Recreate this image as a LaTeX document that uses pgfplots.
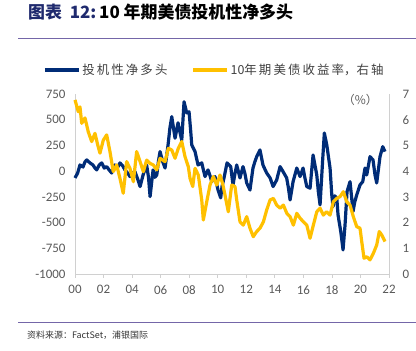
\documentclass[border=0pt]{standalone}
\usepackage{pgfplots}
\pgfplotsset{compat=1.18}
\usepackage{fontspec}
\setmainfont{Carlito}
\newfontfamily\cjk{Noto Sans CJK SC}
\definecolor{navy}{HTML}{002C77}
\definecolor{gold}{HTML}{FFC000}
\definecolor{ticktext}{HTML}{595959}
\definecolor{axgray}{HTML}{D0D0D0}
\definecolor{rulepurple}{HTML}{7466A8}
\definecolor{titlenavy}{HTML}{1F2A6E}

\pgfplotstableread{
x y
0.00 -66
0.18 -20
0.35 60
0.56 40
0.70 90
0.82 109
1.05 80
1.26 60
1.40 30
1.52 12
1.70 60
1.87 80
2.05 30
2.22 44
2.40 10
2.57 -18
2.80 60
3.00 40
3.15 80
3.35 50
3.50 12
3.70 -20
3.85 -53
4.00 -20
4.20 -5
4.40 -80
4.56 -150
4.77 -37
5.02 60
5.15 -60
5.26 -248
5.47 12
5.60 -60
5.73 -37
5.85 100
5.96 190
6.15 90
6.31 30
6.52 255
6.65 420
6.78 530
6.90 420
7.01 320
7.22 470
7.35 380
7.48 300
7.64 675
7.83 565
7.99 578
8.10 400
8.18 255
8.41 190
8.62 60
8.88 80
9.11 -53
9.32 12
9.45 -40
9.58 -102
9.81 -53
10.02 -183
10.21 -260
10.30 -150
10.44 -66
10.65 80
10.91 44
11.07 -134
11.20 -30
11.33 60
11.56 -66
11.77 44
11.90 -20
12.03 -115
12.26 -183
12.47 30
12.60 90
12.73 141
12.96 206
13.17 60
13.30 20
13.43 -18
13.67 -66
13.88 -150
14.13 -86
14.37 44
14.58 -5
14.83 -66
14.95 -160
15.07 -280
15.28 -102
15.54 30
15.77 -53
15.98 30
16.10 -60
16.24 -150
16.47 -166
16.68 157
16.94 -37
17.05 -200
17.17 -328
17.36 128
17.47 371
17.64 255
17.87 30
17.99 -231
18.08 -345
18.20 -240
18.34 -260
18.43 -426
18.62 -588
18.78 -766
18.92 -523
19.06 -199
19.27 -102
19.48 -393
19.60 -300
19.74 -231
19.97 -134
20.16 -102
20.32 30
20.44 -37
20.67 141
20.88 109
21.02 -37
21.14 -115
21.37 141
21.56 238
21.72 190
}\netlong

\pgfplotstableread{
x y
0.00 6.77
0.23 6.31
0.35 6.50
0.47 5.86
0.70 6.07
0.93 5.53
1.17 5.15
1.40 5.47
1.60 5.00
1.75 4.70
1.98 5.20
2.22 5.41
2.45 4.76
2.68 3.98
2.92 4.24
3.15 3.72
3.38 3.14
3.62 4.37
3.85 4.11
4.09 3.59
4.32 4.76
4.56 4.37
4.79 3.98
5.02 4.43
5.26 4.30
5.49 4.24
5.73 4.05
5.96 4.50
6.31 4.37
6.54 4.89
6.78 4.82
7.01 4.50
7.24 4.89
7.48 5.15
7.71 4.56
7.94 4.17
8.06 3.72
8.25 3.40
8.41 4.11
8.64 3.85
8.88 2.88
8.99 2.10
9.23 2.81
9.46 3.46
9.69 3.79
9.93 3.46
10.16 3.85
10.35 3.50
10.51 3.07
10.74 2.42
10.98 3.46
11.21 3.40
11.33 2.88
11.56 2.03
11.79 1.90
12.03 2.23
12.26 1.78
12.49 1.45
12.73 1.65
12.96 1.78
13.20 2.03
13.43 2.49
13.67 2.88
13.90 2.94
14.13 2.68
14.37 2.56
14.60 2.68
14.84 2.36
15.07 2.23
15.30 1.90
15.54 2.36
15.77 2.17
16.00 2.03
16.24 1.90
16.47 1.39
16.70 1.90
16.94 2.42
17.17 2.56
17.40 2.29
17.63 2.42
17.87 2.29
18.10 2.81
18.34 2.94
18.57 3.01
18.80 3.20
19.04 2.81
19.27 2.68
19.50 2.23
19.74 1.84
19.97 1.78
20.09 1.26
20.25 0.61
20.44 0.67
20.67 0.55
20.90 0.80
21.14 1.13
21.32 1.65
21.49 1.52
21.72 1.26
}\yield

\begin{document}
\begin{tikzpicture}
\useasboundingbox (0,0) rectangle (416bp,351bp);
% title
\node[anchor=west, inner sep=0pt] at (28bp,339bp)
  {\cjk\fontsize{17}{18}\selectfont\bfseries\textcolor{titlenavy}{图表\ \ 12:}\,10 年期美债投机性净多头};
\draw[rulepurple, line width=0.9bp] (18bp,313bp) -- (416bp,313bp);
\draw[rulepurple, line width=0.9bp] (18bp,28.5bp) -- (416bp,28.5bp);
\node[anchor=west, inner sep=0pt, text=black!80] at (27bp,16bp)
  {\cjk\fontsize{9}{9}\selectfont 资料来源：FactSet，浦银国际};

\begin{axis}[
  at={(75bp,77bp)}, anchor=south west,
  scale only axis, width=314bp, height=180bp,
  xmin=0, xmax=22, ymin=-1000, ymax=750,
  axis x line*=bottom, axis y line*=left,
  axis line style={axgray, line width=0.8bp},
  xtick={0,2,...,22},
  xticklabels={00,02,04,06,08,10,12,14,16,18,20,22},
  ytick={-1000,-750,-500,-250,0,250,500,750},
  yticklabels={-1000,-750,-500,-250,0,250,500,750},
  tick label style={font=\fontsize{13}{13}\selectfont, text=ticktext},
  x tick style={axgray, line width=0.8bp},
  major tick length=4bp,
  xtick pos=bottom, xtick align=outside,
  ytick style={draw=none},
  yticklabel style={xshift=-6bp},
  xticklabel style={yshift=-4bp},
  clip=false,
]
\addplot[navy, line width=3.2bp, line join=round] table[x=x,y=y] {\netlong};
\end{axis}

\begin{axis}[
  at={(75bp,77bp)}, anchor=south west,
  scale only axis, width=314bp, height=180bp,
  xmin=0, xmax=22, ymin=0, ymax=7,
  hide x axis,
  axis y line*=right,
  axis line style={axgray, line width=0.8bp},
  ytick={0,1,...,7},
  yticklabels={0,1,2,3,4,5,6,7},
  tick label style={font=\fontsize{13}{13}\selectfont, text=ticktext},
  ytick style={draw=none},
  yticklabel style={xshift=10bp},
  clip=false,
  legend style={at={(axis description cs:-0.102,1.133)}, anchor=west,
    draw=none, fill=none, legend columns=2,
    font=\cjk\fontsize{12.5}{12.5}\selectfont, text=black!75,
    inner sep=0pt,
    /tikz/every even column/.append style={column sep=22bp}},
  legend image code/.code={\draw[#1] (0bp,0bp) -- (34bp,0bp);},
]
\addlegendimage{navy, line width=3.2bp}
\addlegendentry{投\,机\,性\,净\,多\,头}
\addplot[gold, line width=3.2bp, line join=round] table[x=x,y=y] {\yield};
\addlegendentry{10年\,期\,美\,债\,收\,益\,率，右\,轴}
\node[text=ticktext, font=\cjk\fontsize{12}{12}\selectfont] at (axis cs:20,6.75) {（\%）};
\end{axis}
\end{tikzpicture}
\end{document}
